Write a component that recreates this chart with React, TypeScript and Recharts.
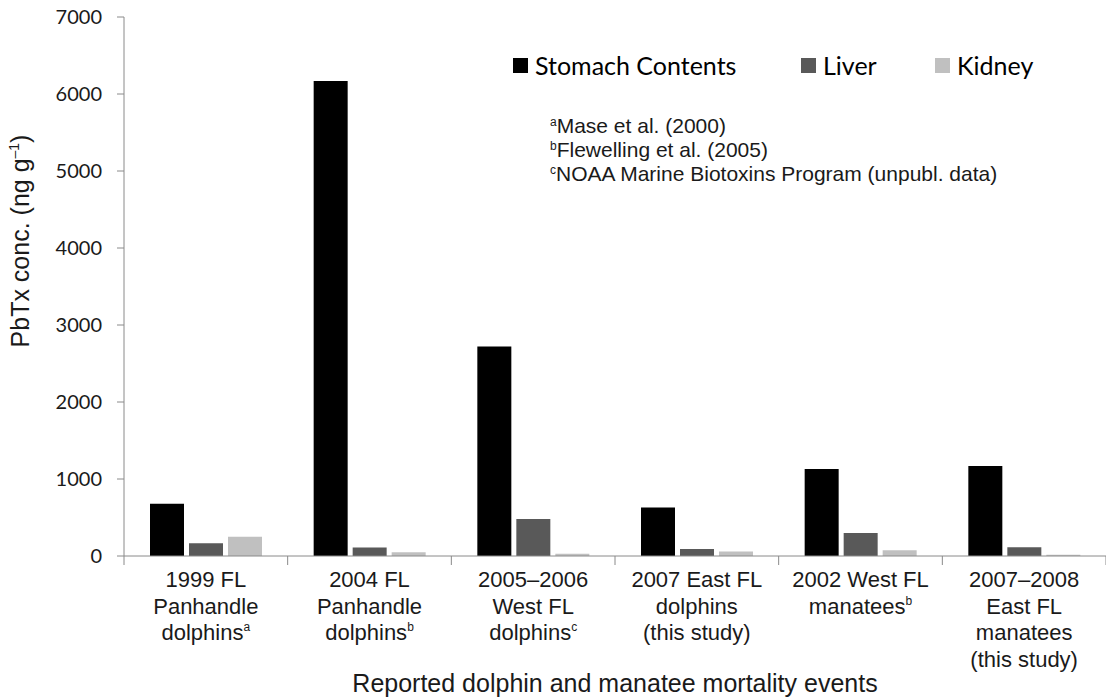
import { BarChart, Bar, XAxis, YAxis } from 'recharts';

// mortality events (category axis), one entry per group of bars
const EVENTS = [
  '1999 FL\nPanhandle\ndolphins',
  '2004 FL\nPanhandle\ndolphins',
  '2005–2006\nWest FL\ndolphins',
  '2007 East FL\ndolphins\n(this study)',
  '2002 West FL\nmanatees',
  '2007–2008\nEast FL\nmanatees\n(this study)',
];
// literature source marks shown after each event label
const SOURCES = ['a', 'b', 'c', '', 'b', ''];

// PbTx concentration, ng/g
const STOMACH = [680, 6170, 2720, 630, 1130, 1170];
const LIVER = [165, 110, 480, 90, 300, 115];
const KIDNEY = [250, 50, 30, 60, 75, 15];

const Y_TICKS = [0, 1000, 2000, 3000, 4000, 5000, 6000, 7000];

const REF_MARKS = ['a', 'b', 'c'];
const REF_TEXTS = [
  'Mase et al. (2000)',
  'Flewelling et al. (2005)',
  'NOAA Marine Biotoxins Program (unpubl. data)',
];

const SERIES = [
  { key: 'stomach', name: 'Stomach Contents', color: '#000000' },
  { key: 'liver', name: 'Liver', color: '#595959' },
  { key: 'kidney', name: 'Kidney', color: '#c0c0c0' },
];

const data = EVENTS.map((event, i) => ({
  event,
  stomach: STOMACH[i],
  liver: LIVER[i],
  kidney: KIDNEY[i],
}));

const W = 1106;
const H = 700;
const AXIS_W = 124;
const BAND = (W - AXIS_W) / EVENTS.length;
const AXIS = '#8a8a8a';
const TEXT = '#1a1a1a';
const SANS = '"Liberation Sans", Arial, sans-serif';
const LEGEND_FONT = 'Lato, "Open Sans", sans-serif';
// horizontal offsets of the legend entries
const LEGEND_X = [0, 288, 422];

function EventTick(props: any) {
  const { x, y, payload, index } = props;
  const lines: string[] = String(payload.value).split('\n');
  const mark = SOURCES[index];
  return (
    <g>
      <line x1={x - BAND / 2} x2={x - BAND / 2} y1={y} y2={y + 9} stroke={AXIS} />
      {index === EVENTS.length - 1 && (
        <line x1={x + BAND / 2} x2={x + BAND / 2} y1={y} y2={y + 9} stroke={AXIS} />
      )}
      <text textAnchor="middle" fontFamily={SANS} fontSize={22} fill={TEXT}>
        {lines.map((line, i) => (
          <tspan key={i} x={x} y={y + 31 + i * 26.5}>
            {line}
            {i === lines.length - 1 && mark ? (
              <tspan fontSize={12} dy={-9}>
                {mark}
              </tspan>
            ) : null}
          </tspan>
        ))}
      </text>
    </g>
  );
}

function SeriesLegend() {
  return (
    <div
      style={{
        position: 'absolute',
        left: 513,
        top: 50,
        height: 30,
        fontFamily: LEGEND_FONT,
        fontSize: 25,
        color: '#000',
      }}
    >
      {SERIES.map((s, i) => (
        <div
          key={s.key}
          style={{ display: 'flex', alignItems: 'center', position: 'absolute', top: 0, height: 30, left: LEGEND_X[i] }}
        >
          <span style={{ width: 15, height: 15, background: s.color, display: 'inline-block', marginRight: 7 }} />
          <span style={{ whiteSpace: 'nowrap' }}>{s.name}</span>
        </div>
      ))}
    </div>
  );
}

export default function App() {
  return (
    <div style={{ position: 'relative', width: W, height: H, background: '#fff' }}>
      <style>{'body{margin:0}'}</style>
      <BarChart
        width={W}
        height={H}
        data={data}
        margin={{ top: 17, right: 0, left: 0, bottom: 0 }}
        barCategoryGap={26}
        barGap={5}
      >
        <XAxis
          dataKey="event"
          height={144}
          axisLine={{ stroke: AXIS }}
          tickLine={false}
          tickSize={0}
          tickMargin={0}
          interval={0}
          tick={<EventTick />}
          label={(p: any) => {
            const vb = p.viewBox;
            return (
              <text x={vb.x + vb.width / 2} y={692} textAnchor="middle" fontFamily={SANS} fontSize={25} fill={TEXT}>
                Reported dolphin and manatee mortality events
              </text>
            );
          }}
        />
        <YAxis
          width={AXIS_W}
          domain={[0, 7000]}
          ticks={Y_TICKS}
          interval={0}
          axisLine={{ stroke: AXIS }}
          tickLine={{ stroke: AXIS }}
          tickSize={7}
          tickMargin={15}
          tick={{ fill: TEXT, fontFamily: LEGEND_FONT, fontSize: 20 }}
          label={() => (
            <text
              x={0}
              y={0}
              transform="translate(29, 241) rotate(-90)"
              textAnchor="middle"
              fontFamily={SANS}
              fontSize={25}
              fill={TEXT}
            >
              PbTx conc. (ng g
              <tspan fontSize={14} dy={-10}>–1</tspan>
              <tspan dy={10}>)</tspan>
            </text>
          )}
        />
        {SERIES.map((s) => (
          <Bar key={s.key} dataKey={s.key} name={s.name} fill={s.color} isAnimationActive={false} />
        ))}
      </BarChart>
      <SeriesLegend />
      <div
        style={{
          position: 'absolute',
          left: 550,
          top: 114,
          fontFamily: SANS,
          fontSize: 21,
          lineHeight: '24px',
          color: TEXT,
        }}
      >
        {REF_TEXTS.map((t, i) => (
          <div key={i} style={{ whiteSpace: 'nowrap', height: 24 }}>
            <span style={{ fontSize: 12, position: 'relative', top: -7 }}>{REF_MARKS[i]}</span>
            {t}
          </div>
        ))}
      </div>
    </div>
  );
}
